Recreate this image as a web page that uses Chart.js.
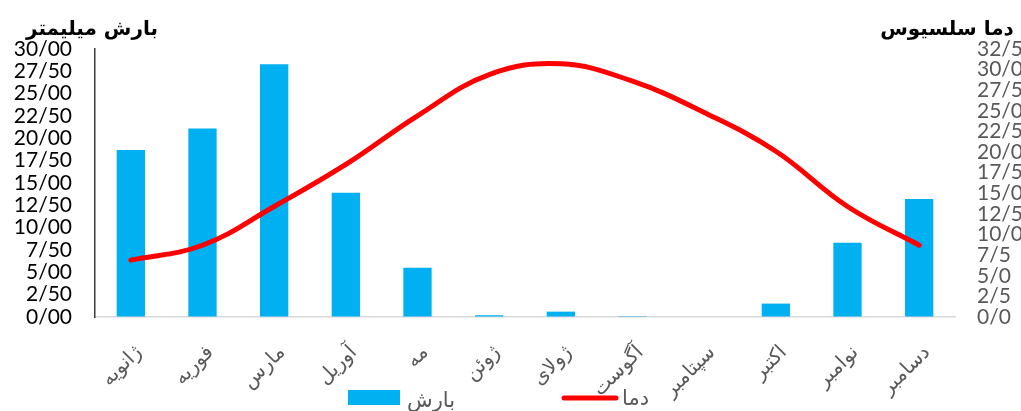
<!DOCTYPE html>
<html>
<head>
<meta charset="utf-8">
<script src="https://cdn.jsdelivr.net/npm/chart.js@4/dist/chart.umd.min.js"></script>
<style>
  html, body { margin: 0; padding: 0; background: #ffffff; overflow: hidden; }
  #wrap { width: 1021px; height: 411px; position: relative; }
</style>
</head>
<body>
<div id="wrap"><canvas id="climate" width="1021" height="411"></canvas></div>
<script>
// Monthly climate: rainfall (mm, bars, left axis) and temperature (°C, line, right axis)
const months = ['ژانویه', 'فوریه', 'مارس', 'آوریل', 'مه', 'ژوئن', 'ژولای', 'آگوست', 'سپتامبر', 'اکتبر', 'نوامبر', 'دسامبر'];
const rainfall = [18.7, 21.1, 28.3, 13.9, 5.5, 0.2, 0.6, 0.1, 0, 1.5, 8.3, 13.2];
const temperature = [6.9, 8.7, 13.4, 18.5, 24.4, 29.4, 30.7, 28.6, 24.8, 20.1, 13.4, 8.7];

const rainTickLabels = ['0/00', '2/50', '5/00', '7/50', '10/00', '12/50', '15/00', '17/50', '20/00', '22/50', '25/00', '27/50', '30/00'];
const tempTickLabels = ['0/0', '2/5', '5/0', '7/5', '10/0', '12/5', '15/0', '17/5', '20/0', '22/5', '25/0', '27/5', '30/0', '32/5'];

const rainName = 'بارش';
const tempName = 'دما';
const rainAxisTitle = 'بارش میلیمتر';
const tempAxisTitle = 'دما سلسیوس';

const BLUE = '#00b0f0';
const RED = '#ff0000';
const ARABIC_FONT = '"DejaVu Sans", sans-serif';
const NUM_FONT = 'Lato, "Open Sans", sans-serif';

// Axis titles above each y axis and the legend row at the bottom
const overlayText = {
  id: 'overlayText',
  afterDraw(chart) {
    const ctx = chart.ctx;
    ctx.save();
    ctx.fillStyle = '#000000';
    ctx.textBaseline = 'alphabetic';
    ctx.textAlign = 'center';
    ctx.font = 'bold 20px ' + ARABIC_FONT;
    ctx.fillText(rainAxisTitle, 92, 35);
    ctx.fillText(tempAxisTitle, 947, 35);

    const ds = chart.data.datasets;
    const bar = ds.find(d => d.type === 'bar');
    const line = ds.find(d => d.type === 'line');
    ctx.font = '21px ' + ARABIC_FONT;
    ctx.textAlign = 'left';
    ctx.fillStyle = bar.backgroundColor;
    ctx.fillRect(348, 390, 52, 15);
    ctx.fillStyle = '#595959';
    ctx.fillText(bar.label, 407, 407);

    ctx.strokeStyle = line.borderColor;
    ctx.lineWidth = 5;
    ctx.lineCap = 'round';
    ctx.beginPath();
    ctx.moveTo(564, 398);
    ctx.lineTo(616, 398);
    ctx.stroke();
    ctx.fillStyle = '#595959';
    ctx.fillText(line.label, 622, 405);
    ctx.restore();
  }
};

new Chart(document.getElementById('climate'), {
  data: {
    labels: months,
    datasets: [
      {
        type: 'line',
        label: tempName,
        data: temperature,
        yAxisID: 'yTemp',
        borderColor: RED,
        backgroundColor: RED,
        borderWidth: 5,
        borderCapStyle: 'round',
        borderJoinStyle: 'round',
        pointRadius: 0,
        tension: 0.4,
        order: 1
      },
      {
        type: 'bar',
        label: rainName,
        data: rainfall,
        yAxisID: 'yRain',
        backgroundColor: BLUE,
        borderWidth: 0,
        categoryPercentage: 1,
        barPercentage: 0.395,
        order: 2
      }
    ]
  },
  options: {
    responsive: false,
    animation: false,
    devicePixelRatio: 1,
    layout: { padding: { top: 49, left: 0, right: 0, bottom: 0 } },
    plugins: {
      legend: { display: false },
      tooltip: { enabled: false }
    },
    scales: {
      x: {
        grid: { drawOnChartArea: false, drawTicks: false },
        border: { display: true, color: '#d9d9d9', width: 1.5 },
        ticks: {
          autoSkip: false,
          maxRotation: 45,
          minRotation: 45,
          padding: 24,
          labelOffset: 8,
          color: '#595959',
          font: { family: ARABIC_FONT, size: 20 }
        },
        afterFit(scale) { scale.height = 94; }
      },
      yRain: {
        position: 'left',
        min: 0,
        max: 30,
        grid: { drawOnChartArea: false, drawTicks: false },
        border: { display: true, color: '#3a3a3a', width: 1.5 },
        ticks: {
          stepSize: 2.5,
          autoSkip: false,
          padding: 23,
          color: '#000000',
          font: { family: NUM_FONT, size: 21 },
          callback: (v, i) => rainTickLabels[i]
        },
        afterFit(scale) { scale.width = 95; }
      },
      yTemp: {
        position: 'right',
        min: 0,
        max: 32.5,
        grid: { drawOnChartArea: false, drawTicks: false },
        border: { display: false },
        ticks: {
          stepSize: 2.5,
          autoSkip: false,
          padding: 22,
          color: '#595959',
          font: { family: NUM_FONT, size: 21 },
          callback: (v, i) => tempTickLabels[i]
        },
        afterFit(scale) { scale.width = 66; }
      }
    }
  },
  plugins: [overlayText]
});
</script>
</body>
</html>
